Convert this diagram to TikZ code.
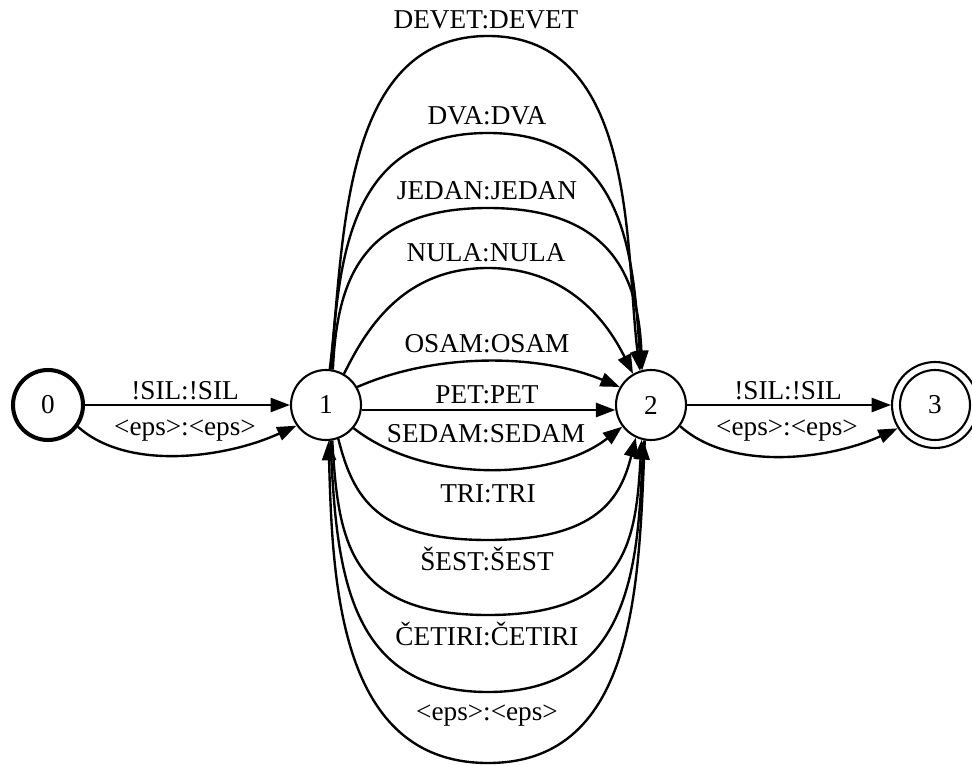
\documentclass[tikz,border=0pt]{standalone}
\usepackage{fontspec}
\setmainfont{Liberation Serif}
\usetikzlibrary{arrows.meta}
\begin{document}
\begin{tikzpicture}[x=0.02cm, y=-0.02cm,
  state/.style={circle, draw, line width=1.2pt, minimum size=1.4cm, inner sep=0pt,
                font=\fontsize{15.5}{18}\selectfont},
  startstate/.style={line width=2.3pt},
  acceptring/.style={circle, draw, line width=1.2pt, minimum size=1.72cm, inner sep=0pt},
  edge/.style={line width=1.35pt, -{Triangle[length=11pt,width=8pt]}},
  lbl/.style={anchor=base, inner sep=0pt, font=\fontsize{15.5}{18}\selectfont}]

\fill[white] (0,0) rectangle (972,766);
\useasboundingbox (0,0) rectangle (972,766);

% states
\node[state, startstate] (n0) at (48,405) {0};
\node[state] (n1) at (326,405) {1};
\node[state] (n2) at (651,405) {2};
\node[state] (n3in) at (935,405) {3};
\node[acceptring] (n3) at (935,405) {};

% 0 -> 1
\draw[edge] (n0) -- (n1) node[lbl] (l01a) at (185,399) {!SIL:!SIL};
\draw[edge] (n0.-36) .. controls +(50,45) and +(-70,32) .. (n1.-145)
  node[lbl] (l01b) at (185,435) {<eps>:<eps>};

% 2 -> 3
\draw[edge] (n2) -- (n3) node[lbl] (l23a) at (788,399) {!SIL:!SIL};
\draw[edge] (n2.-36) .. controls +(50,45) and +(-70,32) .. (n3.-148)
  node[lbl] (l23b) at (787,435) {<eps>:<eps>};

% 1 -> 2, arcs above
\draw[edge] (n1.84) .. controls +(15,-120) and +(-150,0) .. (488,36)
  .. controls +(150,0) and +(-15,-120) .. (n2.108)
  node[lbl] (ldevet) at (486,29) {DEVET:DEVET};
\draw[edge] (n1.82) .. controls +(8,-110) and +(-140,0) .. (488,133)
  .. controls +(140,0) and +(-8,-110) .. (n2.106)
  node[lbl] (ldva) at (487,125) {DVA:DVA};
\draw[edge] (n1.79) .. controls +(4,-85) and +(-130,0) .. (488,208)
  .. controls +(130,0) and +(-4,-85) .. (n2.104)
  node[lbl] (ljedan) at (487,200) {JEDAN:JEDAN};
\draw[edge] (n1.60) .. controls +(20,-40) and +(-88,0) .. (488,268)
  .. controls +(88,0) and +(-20,-40) .. (n2.120)
  node[lbl] (lnula) at (486,262) {NULA:NULA};
\draw[edge] (n1.30) .. controls +(80,-35) and +(-80,-33) .. (n2.150)
  node[lbl] (losam) at (487,353) {OSAM:OSAM};

% 1 -> 2, straight
\draw[edge] (n1.-8) -- (n2.188) node[lbl] (lpet) at (487,403) {PET:PET};

% 1 -> 2, arcs below
\draw[edge] (n1.-40) .. controls +(70,55) and +(-70,55) .. (n2.-143)
  node[lbl] (lsedam) at (486,442) {SEDAM:SEDAM};
\draw[edge] (n1.-70) .. controls +(15,60) and +(-110,0) .. (488,540)
  .. controls +(110,0) and +(-15,60) .. (n2.-115)
  node[lbl] (ltri) at (488,502) {TRI:TRI};
\draw[edge] (n1.-80) .. controls +(6,100) and +(-140,0) .. (488,615)
  .. controls +(140,0) and +(-6,100) .. (n2.-105)
  node[lbl] (lsest) at (487,570) {ŠEST:ŠEST};
\draw[edge] (n1.-83) .. controls +(6,120) and +(-145,0) .. (488,692)
  .. controls +(145,0) and +(-6,120) .. (n2.-102)
  node[lbl] (lcetiri) at (487,645) {ČETIRI:ČETIRI};

% 2 -> 1, epsilon loop back
\draw[edge] (n2.-100) .. controls +(-6,140) and +(150,0) .. (488,763)
  .. controls +(-150,0) and +(4,140) .. (n1.-86)
  node[lbl] (lback) at (487,720) {<eps>:<eps>};

\end{tikzpicture}
\end{document}
